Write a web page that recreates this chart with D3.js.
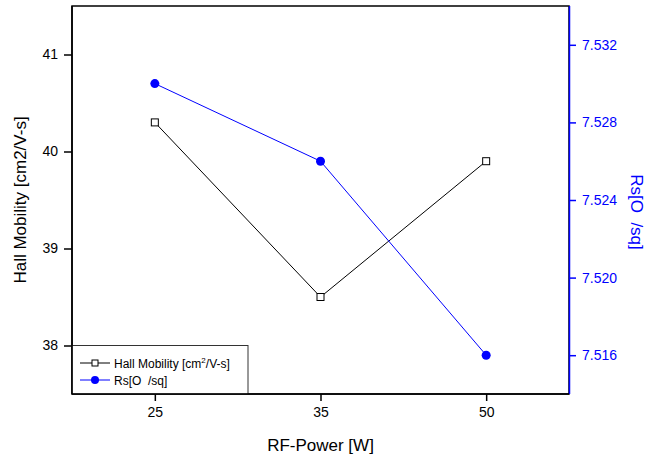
<!DOCTYPE html>
<html>
<head>
<meta charset="utf-8">
<script src="https://cdn.jsdelivr.net/npm/d3@7/dist/d3.min.js"></script>
<style>
  body { margin: 0; background: #fff; }
  svg { font-family: "Liberation Sans", Arial, sans-serif; }
  text.pre { white-space: pre; }
</style>
</head>
<body>
<svg id="chart" width="648" height="461"></svg>
<script>
// data
const power = ["25", "35", "50"];
const hallMobility = [40.3, 38.5, 39.9];
const sheetRes = [7.530, 7.526, 7.516];
const leftTicks = [38, 39, 40, 41];
const rightTicks = [7.516, 7.520, 7.524, 7.528, 7.532];

const svg = d3.select("#chart");
const frame = {left: 72, right: 569, top: 6, bottom: 394};

const x = d3.scalePoint().domain(power).range([frame.left, frame.right]).padding(0.5);
const yL = d3.scaleLinear().domain([37.5, 41.5]).range([frame.bottom, frame.top]);
const yR = d3.scaleLinear().domain([7.514, 7.534]).range([frame.bottom, frame.top]);

// frame
svg.append("rect")
    .attr("x", frame.left).attr("y", frame.top)
    .attr("width", frame.right - frame.left).attr("height", frame.bottom - frame.top)
    .attr("fill", "none").attr("stroke", "#000").attr("stroke-width", 1.5);

// bottom axis
const gx = svg.append("g")
    .attr("transform", `translate(0,${frame.bottom})`)
    .call(d3.axisBottom(x).tickSize(7).tickPadding(6));
gx.select(".domain").remove();
gx.selectAll("line").attr("stroke-width", 1.5);
gx.selectAll("text").attr("font-size", 14).attr("fill", "#000");

// left axis
const gl = svg.append("g")
    .attr("transform", `translate(${frame.left},0)`)
    .call(d3.axisLeft(yL).tickValues(leftTicks).tickFormat(d3.format("d")).tickSize(8).tickPadding(6));
gl.select(".domain").remove();
gl.selectAll("line").attr("stroke-width", 1.5);
gl.selectAll("text").attr("font-size", 14).attr("fill", "#000");

// right axis (blue)
const gr = svg.append("g")
    .attr("transform", `translate(${frame.right},0)`)
    .call(d3.axisRight(yR).tickValues(rightTicks).tickFormat(d3.format(".3f")).tickSize(7).tickPadding(6));
gr.select(".domain").attr("stroke", "#0000ff").attr("stroke-width", 1.5)
    .attr("d", `M0.5,${frame.top}V${frame.bottom}`);
gr.selectAll("line").attr("stroke", "#0000ff").attr("stroke-width", 1.5);
gr.selectAll("text").attr("font-size", 14).attr("fill", "#0000ff");

// axis titles
svg.append("text")
    .attr("x", (frame.left + frame.right) / 2).attr("y", 451)
    .attr("text-anchor", "middle").attr("font-size", 17)
    .text("RF-Power [W]");

svg.append("text")
    .attr("transform", `translate(26,${(frame.top + frame.bottom) / 2}) rotate(-90)`)
    .attr("text-anchor", "middle").attr("font-size", 17)
    .text("Hall Mobility [cm2/V-s]");

svg.append("text").attr("class", "pre")
    .attr("transform", `translate(631,${(frame.top + frame.bottom) / 2 + 12}) rotate(90)`)
    .attr("text-anchor", "middle").attr("font-size", 17).attr("fill", "#0000ff")
    .text("Rs[O  /sq]");

// series lines
const lineL = d3.line().x((d, i) => x(power[i])).y(d => yL(d));
const lineR = d3.line().x((d, i) => x(power[i])).y(d => yR(d));

svg.append("path").datum(hallMobility)
    .attr("d", lineL).attr("fill", "none").attr("stroke", "#000").attr("stroke-width", 1);
svg.append("path").datum(sheetRes)
    .attr("d", lineR).attr("fill", "none").attr("stroke", "#0000ff").attr("stroke-width", 1);

svg.append("g").selectAll("rect")
    .data(hallMobility).join("rect")
    .attr("x", (d, i) => x(power[i]) - 3.5).attr("y", d => yL(d) - 3.5)
    .attr("width", 7).attr("height", 7)
    .attr("fill", "#fff").attr("stroke", "#000").attr("stroke-width", 1);

svg.append("g").selectAll("circle")
    .data(sheetRes).join("circle")
    .attr("cx", (d, i) => x(power[i])).attr("cy", d => yR(d))
    .attr("r", 4.5).attr("fill", "#0000ff");

// legend
const lg = svg.append("g");
lg.append("rect")
    .attr("x", frame.left).attr("y", yL(38))
    .attr("width", 176).attr("height", frame.bottom - yL(38))
    .attr("fill", "#fff").attr("stroke", "#333").attr("stroke-width", 1);

const ly1 = 363, ly2 = 380;
lg.append("line").attr("x1", 80).attr("x2", 110).attr("y1", ly1).attr("y2", ly1).attr("stroke", "#000");
lg.append("rect").attr("x", 92).attr("y", ly1 - 3).attr("width", 6).attr("height", 6)
    .attr("fill", "#fff").attr("stroke", "#000");
const t1 = lg.append("text").attr("x", 114).attr("y", ly1 + 4.5).attr("font-size", 12);
t1.append("tspan").text("Hall Mobility [cm");
t1.append("tspan").attr("dy", -5).attr("font-size", 8).text("2");
t1.append("tspan").attr("dy", 5).text("/V-s]");

lg.append("line").attr("x1", 80).attr("x2", 110).attr("y1", ly2).attr("y2", ly2).attr("stroke", "#0000ff");
lg.append("circle").attr("cx", 95).attr("cy", ly2).attr("r", 4).attr("fill", "#0000ff");
lg.append("text").attr("class", "pre").attr("x", 114).attr("y", ly2 + 4.5).attr("font-size", 12)
    .text("Rs[O  /sq]");

// restore frame edges over legend
svg.append("line").attr("x1", frame.left).attr("x2", frame.right).attr("y1", frame.bottom).attr("y2", frame.bottom)
    .attr("stroke", "#000").attr("stroke-width", 1.5);
svg.append("line").attr("x1", frame.left).attr("x2", frame.left).attr("y1", frame.top).attr("y2", frame.bottom)
    .attr("stroke", "#000").attr("stroke-width", 1.5);
</script>
</body>
</html>
